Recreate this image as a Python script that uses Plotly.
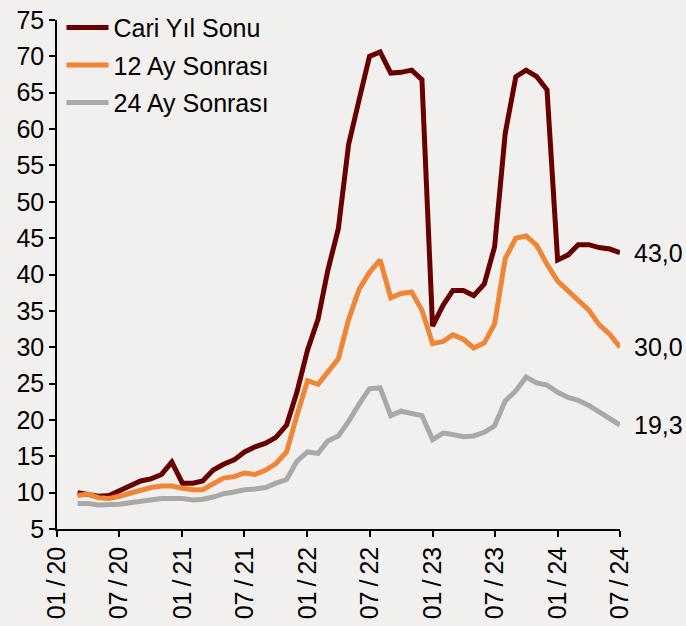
import plotly.graph_objects as go

# Monthly survey dates (Mar 2020 - Jul 2024)
months = []
for y in range(2020, 2025):
    for m in range(1, 13):
        if (y == 2020 and m < 3) or (y == 2024 and m > 7):
            continue
        months.append(f"{y}-{m:02d}-01")

cari_yil_sonu = [10.0, 9.8, 9.5, 9.6, 10.3, 11.0, 11.6, 11.9, 12.5, 14.2,
                 11.3, 11.3, 11.6, 13.1, 13.9, 14.5, 15.6, 16.3, 16.8, 17.6, 19.3, 23.8,
                 29.6, 33.9, 40.5, 46.3, 57.9, 64.1, 70.0, 70.6, 67.7, 67.8, 68.1, 66.8,
                 32.9, 35.8, 37.8, 37.8, 37.1, 38.7, 43.8, 59.4, 67.2, 68.1, 67.2, 65.4,
                 42.0, 42.7, 44.1, 44.1, 43.7, 43.5, 43.0]
ay12_sonrasi = [9.6, 9.8, 9.3, 9.2, 9.5, 9.9, 10.4, 10.7, 10.9, 10.9,
                10.6, 10.4, 10.4, 11.3, 12.0, 12.2, 12.7, 12.5, 13.1, 14.0, 15.6, 20.6,
                25.4, 24.9, 26.6, 28.4, 33.8, 38.0, 40.3, 42.0, 36.8, 37.4, 37.6, 35.1,
                30.5, 30.8, 31.7, 31.1, 29.9, 30.6, 33.2, 42.2, 45.0, 45.3, 44.0, 41.4,
                39.1, 37.8, 36.6, 35.1, 33.1, 31.8, 30.0]
ay24_sonrasi = [8.5, 8.5, 8.3, 8.3, 8.4, 8.6, 8.8, 9.0, 9.2, 9.2,
                9.2, 9.0, 9.1, 9.4, 9.85, 10.1, 10.4, 10.5, 10.7, 11.3, 11.8, 14.3,
                15.6, 15.4, 17.1, 17.8, 19.8, 22.2, 24.3, 24.4, 20.6, 21.2, 20.9, 20.6,
                17.3, 18.2, 18.0, 17.7, 17.8, 18.3, 19.2, 22.6, 24.0, 25.9, 25.1, 24.8,
                23.8, 23.1, 22.7, 22.0, 21.1, 20.2, 19.3]

series_names = ["Cari Yıl Sonu", "12 Ay Sonrası", "24 Ay Sonrası"]
series_values = [cari_yil_sonu, ay12_sonrasi, ay24_sonrasi]
colors = ["#680000", "#EF8535", "#A9A9A9"]

tick_dates = ["2020-01-01", "2020-07-01", "2021-01-01", "2021-07-01", "2022-01-01",
              "2022-07-01", "2023-01-01", "2023-07-01", "2024-01-01", "2024-07-01"]
tick_labels = ["01/20", "07/20", "01/21", "07/21", "01/22",
               "07/22", "01/23", "07/23", "01/24", "07/24"]

FONT = "Liberation Sans"
BG = "#F2F0EE"

fig = go.Figure()
for i, (name, vals, c) in enumerate(zip(series_names, series_values, colors)):
    fig.add_trace(go.Scatter(x=months, y=vals, mode="lines", name=name,
                             legendgroup=f"g{i}",
                             line=dict(color=c, width=5)))
    fig.add_annotation(x=months[-1], y=vals[-1], text=f"{vals[-1]:.1f}".replace(".", ","),
                       showarrow=False, xanchor="left", yanchor="middle", xshift=12,
                       font=dict(family=FONT, size=25, color="black"))

fig.update_layout(
    width=686, height=626,
    margin=dict(l=57, r=66, t=5, b=97),
    paper_bgcolor=BG, plot_bgcolor=BG,
    font=dict(family=FONT, size=25, color="black"),
    showlegend=True,
    legend=dict(x=0.008, y=1.03, xanchor="left", yanchor="top",
                bgcolor="rgba(0,0,0,0)", font=dict(size=25),
                itemwidth=42,
                traceorder="grouped", tracegroupgap=2),
    xaxis=dict(type="date", range=["2020-01-01", "2024-07-01"],
               tickvals=tick_dates,
               ticktext=[t.replace("/", "\u2009/\u2009") for t in tick_labels],
               tickangle=-90,
               showgrid=False, zeroline=False, showline=True, linecolor="black",
               linewidth=1.5, ticks="outside", ticklen=6, tickcolor="black",
               tickwidth=1.5, ticklabeloverflow="allow"),
    yaxis=dict(range=[5, 75], tickvals=list(range(5, 80, 5)),
               showgrid=False, zeroline=False, showline=True, linecolor="black",
               linewidth=1.5, ticks="outside", ticklen=6, tickcolor="black",
               tickwidth=1.5, ticklabeloverflow="allow"),
)

fig.write_html("out.html", config={"displayModeBar": False},
               post_script="document.body.style.margin='0';document.body.style.background='#F2F0EE';")
